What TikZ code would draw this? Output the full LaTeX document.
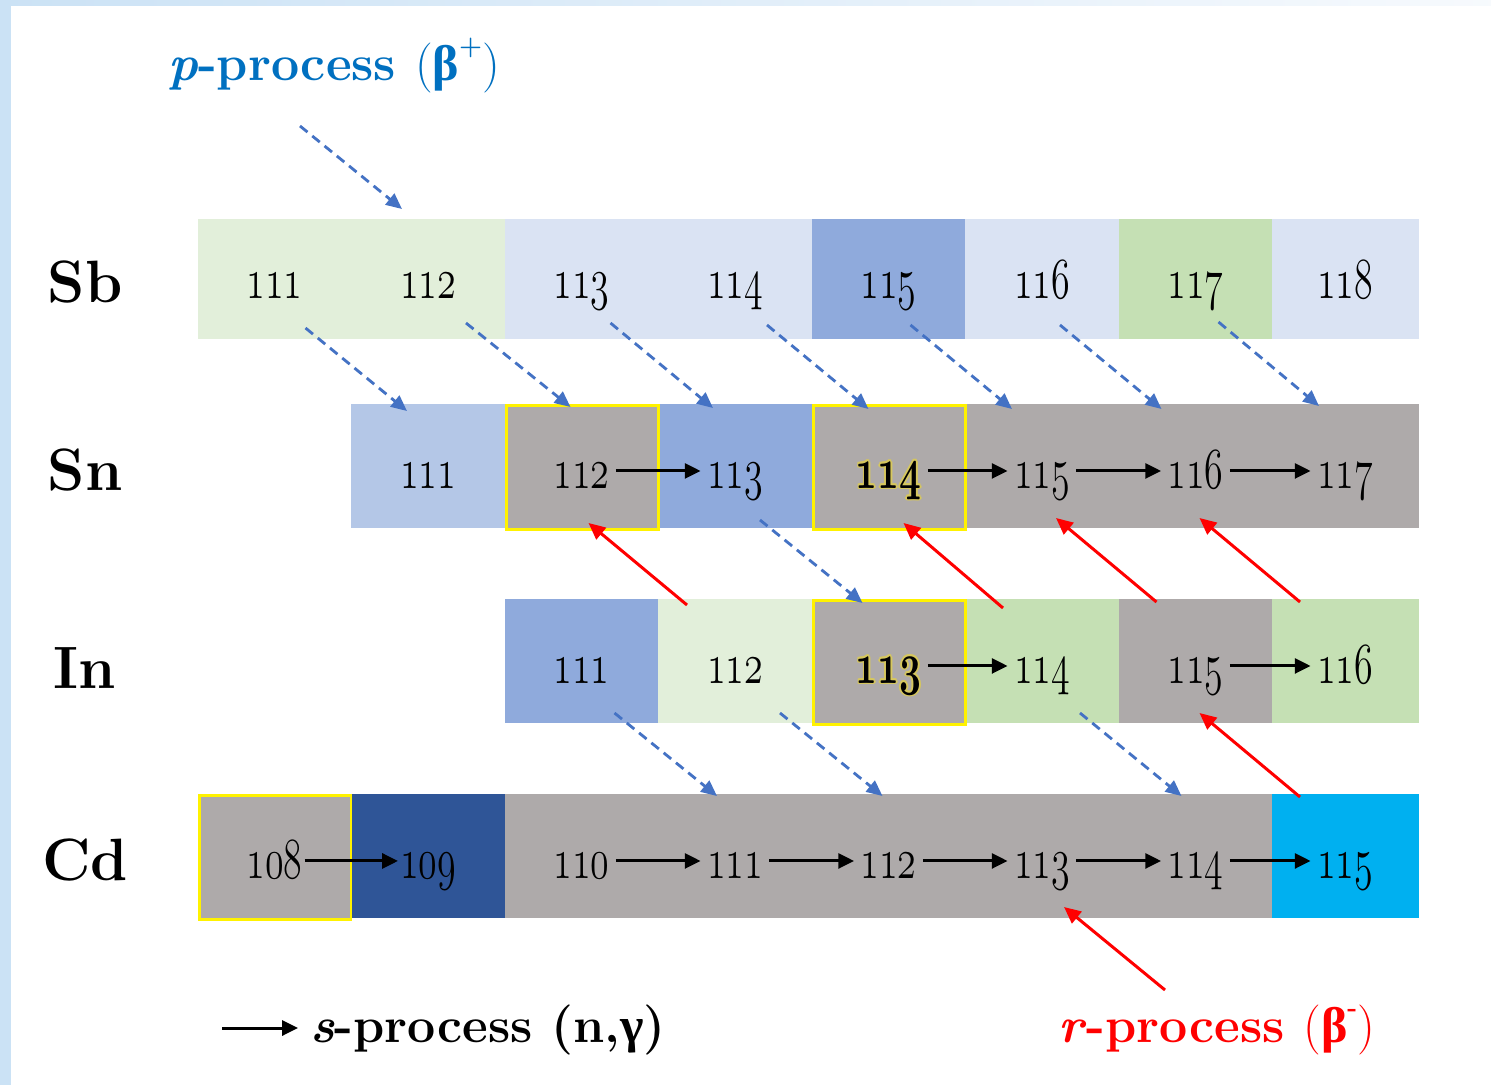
\documentclass[tikz,border=0pt]{standalone}
\usepackage{fontspec}
\usepackage{graphicx}
\usetikzlibrary{arrows.meta,calc}
\newfontfamily\grk{Liberation Serif}
\definecolor{lgreen}{HTML}{E2EFDA}
\definecolor{lblue}{HTML}{DAE3F3}
\definecolor{mblue}{HTML}{8FAADC}
\definecolor{sblue}{HTML}{B4C7E7}
\definecolor{mgreen}{HTML}{C5E0B4}
\definecolor{stable}{HTML}{AEAAAA}
\definecolor{dblue}{HTML}{2F5597}
\definecolor{cyanb}{HTML}{00B0F0}
\definecolor{parrow}{HTML}{4472C4}
\definecolor{ptext}{HTML}{0070C0}
\definecolor{rred}{HTML}{FF0000}
\definecolor{glowc}{HTML}{D6C75E}
\definecolor{edgeblue}{HTML}{CBE2F5}
\definecolor{topblue}{HTML}{EAF2FB}
\newcommand\dig[1]{\scalebox{0.87}[1.33]{\fontsize{24.88}{30}\usefont{OML}{cmm}{m}{it}#1}}
\newcommand\bdig[1]{\scalebox{0.87}[1.33]{\fontsize{24.88}{30}\usefont{OML}{cmm}{b}{it}#1}}
\newcommand\glc[3]{\rlap{\hspace*{#1}\raisebox{#2}{\color{glowc}\bdig{#3}}}}
\newcommand\glowdig[1]{\glc{-0.9pt}{0pt}{#1}\glc{0.9pt}{0pt}{#1}\glc{0pt}{0.9pt}{#1}\glc{0pt}{-0.9pt}{#1}\glc{-.65pt}{.65pt}{#1}\glc{.65pt}{.65pt}{#1}\glc{-.65pt}{-.65pt}{#1}\glc{.65pt}{-.65pt}{#1}\bdig{#1}}
\newcommand\cellnode[6]{\node[cell=#6, minimum width={(#3-#2)*0.02cm}, minimum height={(#5-#4)*0.02cm}] (#1) at ({(#2+#3)/2},{(#4+#5)/2}) {};}
\newcommand\supsm[1]{\raisebox{0.5em}{\fontsize{15}{15}\selectfont #1}}
\tikzset{
  cell/.style={rectangle, inner sep=0pt, outer sep=0pt, fill=#1, draw=#1, line width=0.3pt},
  num/.style={anchor=base, inner ysep=0pt, inner xsep=3.5pt, text height=22.8pt, text depth=3.4pt},
  elem/.style={anchor=base, inner sep=0pt, font=\fontsize{34}{40}\selectfont\bfseries},
  legend/.style={anchor=base west, inner sep=0pt, font=\fontsize{28.5}{34}\selectfont\bfseries},
  yframe/.style={draw=yellow, line width=1.7pt},
  sarr/.style={-{Triangle[length=9pt,width=8.5pt]}, line width=1.7pt, black},
  parr/.style={-{Triangle[length=9pt,width=8pt]}, draw=parrow, line width=1.6pt, dash pattern=on 5.5pt off 3.5pt},
  rarr/.style={-{Triangle[length=9.5pt,width=8.5pt]}, draw=rred, line width=1.7pt}
}
\begin{document}
\begin{tikzpicture}[x=0.02cm, y=-0.02cm]
\useasboundingbox (0,0) rectangle (1491,1085);
% background
\fill[white] (0,0) rectangle (1491,1085);
\shade[left color=edgeblue, right color=topblue!40] (0,0) rectangle (1491,5);
\fill[edgeblue] (0,0) rectangle (11,1085);
% cells: Sb
\cellnode{Csb111}{198}{351}{219}{338}{lgreen}
\cellnode{Csb112}{351}{505}{219}{338}{lgreen}
\cellnode{Csb113}{505}{658}{219}{338}{lblue}
\cellnode{Csb114}{658}{812}{219}{338}{lblue}
\cellnode{Csb115}{812}{965}{219}{338}{mblue}
\cellnode{Csb116}{965}{1119}{219}{338}{lblue}
\cellnode{Csb117}{1119}{1272}{219}{338}{mgreen}
\cellnode{Csb118}{1272}{1418}{219}{338}{lblue}
% Sn
\cellnode{Csn111}{351}{505}{404}{527}{sblue}
\cellnode{Csn112}{505}{658}{404}{527}{stable}
\cellnode{Csn113}{658}{812}{404}{527}{mblue}
\cellnode{Csn114}{812}{965}{404}{527}{stable}
\cellnode{Csn115}{965}{1119}{404}{527}{stable}
\cellnode{Csn116}{1119}{1272}{404}{527}{stable}
\cellnode{Csn117}{1272}{1418}{404}{527}{stable}
% In
\cellnode{Cin111}{505}{658}{599}{722}{mblue}
\cellnode{Cin112}{658}{812}{599}{722}{lgreen}
\cellnode{Cin113}{812}{965}{599}{722}{stable}
\cellnode{Cin114}{965}{1119}{599}{722}{mgreen}
\cellnode{Cin115}{1119}{1272}{599}{722}{stable}
\cellnode{Cin116}{1272}{1418}{599}{722}{mgreen}
% Cd
\cellnode{Ccd108}{198}{351}{794}{917}{stable}
\cellnode{Ccd109}{351}{505}{794}{917}{dblue}
\cellnode{Ccd110}{505}{658}{794}{917}{stable}
\cellnode{Ccd111}{658}{812}{794}{917}{stable}
\cellnode{Ccd112}{812}{965}{794}{917}{stable}
\cellnode{Ccd113}{965}{1119}{794}{917}{stable}
\cellnode{Ccd114}{1119}{1272}{794}{917}{stable}
\cellnode{Ccd115}{1272}{1418}{794}{917}{cyanb}
% yellow frames
\draw[yframe] ($(Csn112.north west)+(1.5,1.5)$) rectangle ($(Csn112.south east)+(0,2.5)$);
\draw[yframe] ($(Csn114.north west)+(1.5,1.5)$) rectangle ($(Csn114.south east)+(0,2.5)$);
\draw[yframe] ($(Cin113.north west)+(1.5,1.5)$) rectangle ($(Cin113.south east)+(0,2.5)$);
\draw[yframe] ($(Ccd108.north west)+(1.5,1.5)$) rectangle ($(Ccd108.south east)+(0,2.5)$);
% element labels
\node[elem] (Sb) at (85,302) {Sb};
\node[elem] (Sn) at (85,490) {Sn};
\node[elem] (In) at (85,688) {In};
\node[elem] (Cd) at (85,880) {Cd};
% numbers Sb
\node[num] (sb111) at (274.5,298) {\dig{111}};
\node[num] (sb112) at (428,298) {\dig{112}};
\node[num] (sb113) at (581.5,298) {\dig{113}};
\node[num] (sb114) at (735,298) {\dig{114}};
\node[num] (sb115) at (888.5,298) {\dig{115}};
\node[num] (sb116) at (1042,298) {\dig{116}};
\node[num] (sb117) at (1195.5,298) {\dig{117}};
\node[num] (sb118) at (1345,298) {\dig{118}};
% numbers Sn
\node[num] (sn111) at (428,488) {\dig{111}};
\node[num] (sn112) at (581.5,488) {\dig{112}};
\node[num] (sn113) at (735,488) {\dig{113}};
\node[num] (sn114) at (888.5,488) {\glowdig{114}};
\node[num] (sn115) at (1042,488) {\dig{115}};
\node[num] (sn116) at (1195.5,488) {\dig{116}};
\node[num] (sn117) at (1345,488) {\dig{117}};
% numbers In
\node[num] (in111) at (581.5,683) {\dig{111}};
\node[num] (in112) at (735,683) {\dig{112}};
\node[num] (in113) at (888.5,683) {\glowdig{113}};
\node[num] (in114) at (1042,683) {\dig{114}};
\node[num] (in115) at (1195.5,683) {\dig{115}};
\node[num] (in116) at (1345,683) {\dig{116}};
% numbers Cd
\node[num, inner xsep=1pt] (cd108) at (274.5,878) {\dig{108}};
\node[num, inner xsep=1pt] (cd109) at (428,878) {\dig{109}};
\node[num] (cd110) at (581.5,878) {\dig{110}};
\node[num] (cd111) at (735,878) {\dig{111}};
\node[num] (cd112) at (888.5,878) {\dig{112}};
\node[num] (cd113) at (1042,878) {\dig{113}};
\node[num] (cd114) at (1195.5,878) {\dig{114}};
\node[num] (cd115) at (1345,878) {\dig{115}};
% legends
\node[legend, text=ptext] (ptitle) at (168,80) {\textit{p}-process {\mdseries(}{\grk β}\supsm{+}{\mdseries)}};
\node[legend] (sproc) at (310,1042) {\textit{s}-process (n,{\grk γ})};
\node[legend, text=rred] (rproc) at (1058,1042) {\textit{r}-process {\mdseries(}{\grk β}\supsm{-}{\mdseries)}};
\coordinate (slegtail) at (222,1028);
% s-process arrows
\draw[sarr] (sn112) -- (sn113);
\draw[sarr] (sn114) -- (sn115);
\draw[sarr] (sn115) -- (sn116);
\draw[sarr] (sn116) -- (sn117);
\draw[sarr] (in113) -- (in114);
\draw[sarr] (in115) -- (in116);
\draw[sarr] (cd108) -- (cd109);
\draw[sarr] (cd110) -- (cd111);
\draw[sarr] (cd111) -- (cd112);
\draw[sarr] (cd112) -- (cd113);
\draw[sarr] (cd113) -- (cd114);
\draw[sarr] (cd114) -- (cd115);
\draw[sarr] (slegtail) -- ($(sproc.base west)+(-12,-14)$);
% p-process arrows
\draw[parr] ($(ptitle.base west)+(132,46)$) -- ($(Csb112.north)+(-26,-10)$);
\draw[parr] ($(sb111.base)+(31,30)$) -- ($(Csn111.north)+(-21,7)$);
\draw[parr] ($(sb112.base)+(38,25)$) -- ($(Csn112.north)+(-11,3)$);
\draw[parr] ($(sb113.base)+(29,25)$) -- ($(Csn113.north)+(-22,4)$);
\draw[parr] ($(sb114.base)+(32,27)$) -- ($(Csn114.north)+(-20,5)$);
\draw[parr] ($(sb115.base)+(22,27)$) -- ($(Csn115.north)+(-30,5)$);
\draw[parr] ($(sb116.base)+(18,27)$) -- ($(Csn116.north)+(-34,5)$);
\draw[parr] ($(sb117.base)+(23,24)$) -- ($(Csn117.north)+(-26,2)$);
\draw[parr] ($(sn113.base)+(25,32)$) -- ($(Cin113.north)+(-26,4)$);
\draw[parr] ($(in111.base)+(33,30)$) -- ($(Ccd111.north)+(-18,2)$);
\draw[parr] ($(in112.base)+(45,30)$) -- ($(Ccd112.north)+(-6,2)$);
\draw[parr] ($(in114.base)+(38,30)$) -- ($(Ccd114.north)+(-14,2)$);
% r-process arrows
\draw[rarr] ($(Cin112.north)+(-48,6)$) -- ($(Csn112.south)+(7,-4)$);
\draw[rarr] ($(Cin114.north)+(-39,9)$) -- ($(Csn114.south)+(15,-4)$);
\draw[rarr] ($(Cin115.north)+(-39,3)$) -- ($(Csn115.south)+(14,-9)$);
\draw[rarr] ($(Cin116.north)+(-45,3)$) -- ($(Csn116.south)+(4,-9)$);
\draw[rarr] ($(Ccd115.north)+(-45,3)$) -- ($(Cin115.south)+(4,-9)$);
\draw[rarr] ($(rproc.base west)+(107,-52)$) -- ($(Ccd113.south)+(22,-10)$);
\end{tikzpicture}
\end{document}
